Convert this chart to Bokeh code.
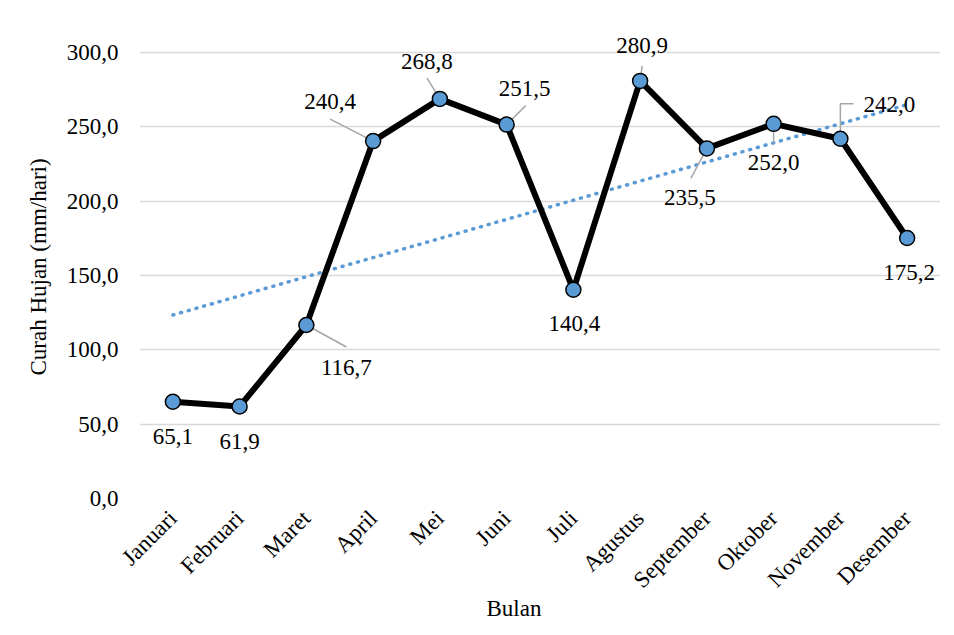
import numpy as np
from bokeh.plotting import figure
from bokeh.models import Range1d, FixedTicker, ColumnDataSource, LabelSet, Title
from bokeh.embed import file_html
from bokeh.resources import INLINE

# ---- data ----
months = ["Januari", "Februari", "Maret", "April", "Mei", "Juni", "Juli",
          "Agustus", "September", "Oktober", "November", "Desember"]
rainfall = [65.1, 61.9, 116.7, 240.4, 268.8, 251.5, 140.4, 280.9, 235.5, 252.0, 242.0, 175.2]
value_labels = ["65,1", "61,9", "116,7", "240,4", "268,8", "251,5", "140,4",
                "280,9", "235,5", "252,0", "242,0", "175,2"]
y_ticks = [0, 50, 100, 150, 200, 250, 300]
y_tick_labels = ["0,0", "50,0", "100,0", "150,0", "200,0", "250,0", "300,0"]
x_title = "Bulan"
y_title = "Curah Hujan (mm/hari)"

# ---- label placement (screen px relative to the point, +dy = down) ----
label_dx = [0, 0, 40, -43, -13, 18, 1, 2, -17, 0, 49, 2]
label_dy = [35, 35, 42, -40, -37, -36, 34, -35, 49, 39, -34, 34]
leader_paths = {2: [(0, 0), (40, 22)], 3: [(0, 0), (-43, -22)], 4: [(0, 0), (-13, -21)],
                5: [(0, 0), (19, -19)], 7: [(0, 0), (2, -15)], 8: [(0, 0), (-16, 30)],
                9: [(0, 0), (0, 19)], 10: [(0, 0), (0, -35), (13, -35)]}

FONT = "Liberation Serif"
FS = "23px"
FW, FH_DATA = 801, 446     # frame width, height of the 0..300 span
TOP_PAD = 17               # headroom above the 300 gridline
BL, BR, BT, BB = 139, 10, 52 - TOP_PAD, 128
n = len(months)
x = np.arange(n) + 0.5
px_x = FW / n
px_y = FH_DATA / (y_ticks[-1] - y_ticks[0])
y_end = y_ticks[-1] + TOP_PAD / px_y

p = figure(frame_width=FW, frame_height=FH_DATA + TOP_PAD,
           output_backend="svg", toolbar_location=None,
           x_range=Range1d(0, n), y_range=Range1d(y_ticks[0], y_end),
           min_border_left=BL, min_border_right=BR, min_border_top=BT, min_border_bottom=BB)
p.outline_line_color = None
p.background_fill_color = "white"
p.border_fill_color = "white"

p.xgrid.grid_line_color = None
p.ygrid.grid_line_color = "#d9d9d9"
p.ygrid.grid_line_width = 1.5

p.yaxis.ticker = FixedTicker(ticks=y_ticks)
p.yaxis.major_label_overrides = {t: l for t, l in zip(y_ticks, y_tick_labels)}
p.xaxis.ticker = FixedTicker(ticks=list(x))
p.xaxis.major_label_overrides = {float(xx): m for xx, m in zip(x, months)}
p.xaxis.major_label_orientation = np.pi / 4
for ax in (p.xaxis, p.yaxis):
    ax.axis_line_color = None
    ax.major_tick_line_color = None
    ax.minor_tick_line_color = None
    ax.major_label_text_font = FONT
    ax.major_label_text_font_size = FS
    ax.major_label_text_color = "black"
    ax.axis_label_text_font = FONT
    ax.axis_label_text_font_size = FS
    ax.axis_label_text_font_style = "normal"
    ax.axis_label_text_color = "black"
p.yaxis.axis_label = y_title
p.yaxis.major_label_standoff = 15
p.yaxis.axis_label_standoff = 13
p.xaxis.major_label_standoff = 10

# trend line (linear least squares)
slope, intercept = np.polyfit(x, rainfall, 1)
tx = [x[0], x[-1]]
ty = [intercept + slope * x[0], intercept + slope * x[-1]]
p.line(tx, ty, line_color="#5b9bd5", line_width=3.5, line_dash="1 7", line_cap="round")

# leader lines
lxs, lys = [], []
for i, path in leader_paths.items():
    lxs.append([x[i] + dx / px_x for dx, dy in path])
    lys.append([rainfall[i] - dy / px_y for dx, dy in path])
p.multi_line(lxs, lys, line_color="#a6a6a6", line_width=1.5)

# main series
lab_x = [xi + dx / px_x for xi, dx in zip(x, label_dx)]
lab_y = [yi - dy / px_y for yi, dy in zip(rainfall, label_dy)]
src = ColumnDataSource(dict(x=x, y=rainfall, lab=value_labels, lx=lab_x, ly=lab_y))
p.line("x", "y", source=src, line_color="black", line_width=6, line_join="round")
p.scatter("x", "y", source=src, size=15, fill_color="#5b9bd5", line_color="black", line_width=1.5)
p.add_layout(LabelSet(x="lx", y="ly", text="lab", source=src,
                      text_font=FONT, text_font_size=FS, text_color="black",
                      text_align="center", text_baseline="middle"))

# x axis title beneath the slanted month names
p.add_layout(Title(text=x_title, align="left", offset=347, standoff=-21,
                   text_font=FONT, text_font_size=FS, text_font_style="normal",
                   text_color="black"), "below")

open("out.html", "w").write(file_html(p, INLINE))
